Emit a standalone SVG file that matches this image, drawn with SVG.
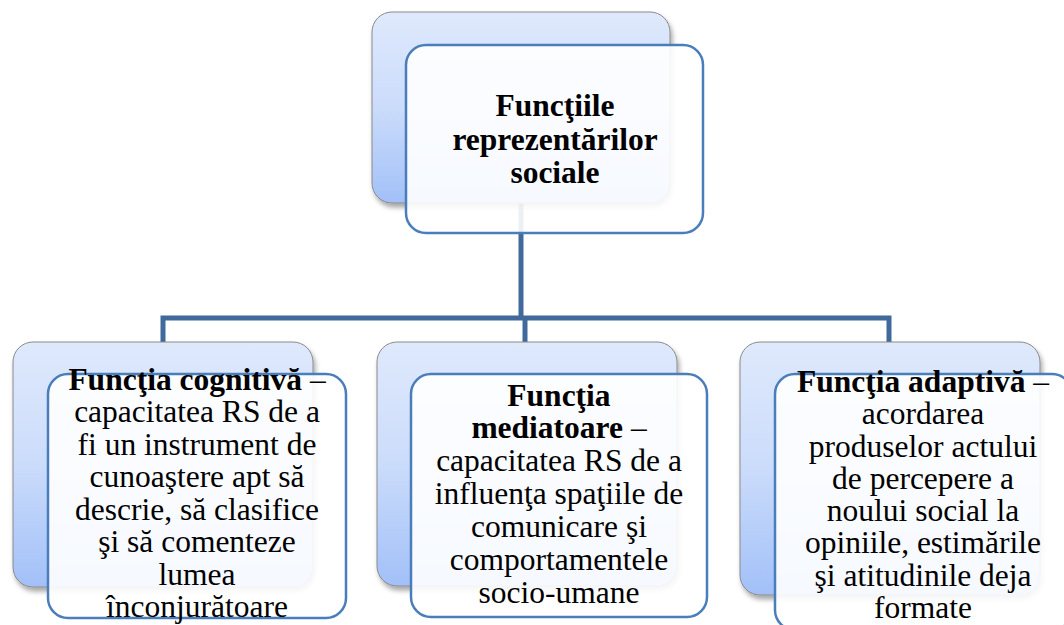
<svg xmlns="http://www.w3.org/2000/svg" width="1064" height="625" viewBox="0 0 1064 625">
  <defs>
    <linearGradient id="backFill" x1="0" y1="0" x2="0" y2="1">
      <stop offset="0" stop-color="#dfe9fc"/>
      <stop offset="0.5" stop-color="#cbdcfb"/>
      <stop offset="1" stop-color="#a2c0f8"/>
    </linearGradient>
    <filter id="shadow" x="-10%" y="-10%" width="125%" height="125%">
      <feDropShadow dx="2" dy="4" stdDeviation="2.5" flood-color="#000" flood-opacity="0.35"/>
    </filter>
    <style>
      .back { fill: url(#backFill); stroke: #8a8a8a; stroke-width: 1; filter: url(#shadow); }
      .front { fill: #ffffff; fill-opacity: 0.9; stroke: #4a7ebb; stroke-width: 2.5; }
      .conn { fill: none; stroke: #41699c; stroke-width: 5; stroke-linejoin: miter; }
      .t { font-family: "Liberation Serif", "Times New Roman", serif; font-size: 31.5px; fill: #000; text-anchor: middle; }
      .b { font-weight: bold; }
    </style>
  </defs>

  <rect width="1064" height="625" fill="#ffffff"/>

  <!-- connectors -->
  <g id="connectors">
    <path class="conn" d="M521,200 V318"/>
    <path class="conn" d="M163,343 V318 H889 V343"/>
    <path class="conn" d="M525,318 V343"/>
  </g>

  <!-- root node -->
  <g id="node-root">
    <rect class="back" x="372" y="12" width="298" height="191" rx="20"/>
    <rect class="front" x="406" y="45" width="297" height="188" rx="20"/>
    <text class="t b" x="555" y="116">Funcţiile</text>
    <text class="t b" x="555" y="150">reprezentărilor</text>
    <text class="t b" x="555" y="183">sociale</text>
  </g>

  <!-- cognitive function -->
  <g id="node-cognitive">
    <rect class="back" x="13" y="342" width="300" height="245" rx="20"/>
    <rect class="front" x="48" y="374" width="298" height="244" rx="20"/>
    <text class="t" x="197" y="390"><tspan class="b">Funcţia cognitivă</tspan> –</text>
    <text class="t" x="197" y="422.4">capacitatea RS de a</text>
    <text class="t" x="197" y="454.9">fi un instrument de</text>
    <text class="t" x="197" y="487.3">cunoaştere apt să</text>
    <text class="t" x="197" y="519.7">descrie, să clasifice</text>
    <text class="t" x="197" y="552.1">şi să comenteze</text>
    <text class="t" x="197" y="584.6">lumea</text>
    <text class="t" x="197" y="617">înconjurătoare</text>
  </g>

  <!-- mediating function -->
  <g id="node-mediating">
    <rect class="back" x="377" y="342" width="300" height="244" rx="20"/>
    <rect class="front" x="411" y="374" width="296" height="243" rx="20"/>
    <text class="t b" x="559" y="406">Funcţia</text>
    <text class="t" x="559" y="438"><tspan class="b">mediatoare</tspan> –</text>
    <text class="t" x="559" y="471">capacitatea RS de a</text>
    <text class="t" x="559" y="504">influenţa spaţiile de</text>
    <text class="t" x="559" y="537">comunicare şi</text>
    <text class="t" x="559" y="570">comportamentele</text>
    <text class="t" x="559" y="603">socio-umane</text>
  </g>

  <!-- adaptive function -->
  <g id="node-adaptive">
    <rect class="back" x="740" y="342" width="300" height="253" rx="20"/>
    <rect class="front" x="775" y="374" width="297" height="256" rx="20"/>
    <text class="t" x="923" y="392"><tspan class="b">Funcţia adaptivă</tspan> –</text>
    <text class="t" x="923" y="424.3">acordarea</text>
    <text class="t" x="923" y="456.6">produselor actului</text>
    <text class="t" x="923" y="488.9">de percepere a</text>
    <text class="t" x="923" y="521.1">noului social la</text>
    <text class="t" x="923" y="553.4">opiniile, estimările</text>
    <text class="t" x="923" y="585.7">şi atitudinile deja</text>
    <text class="t" x="923" y="618">formate</text>
  </g>
</svg>
